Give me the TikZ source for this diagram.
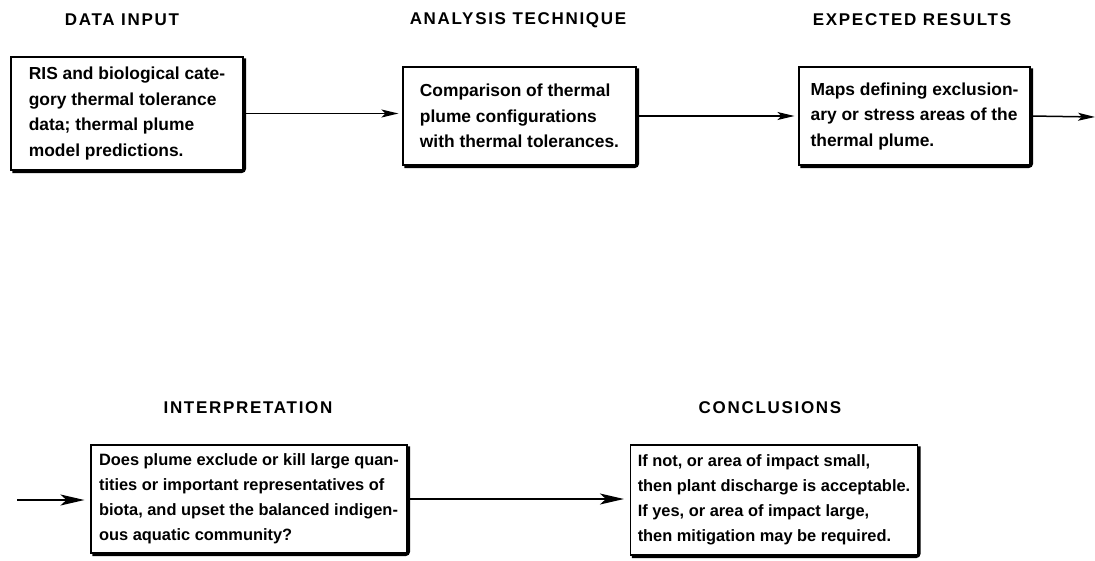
\documentclass[tikz,border=0pt]{standalone}
\usepackage{fontspec}
\setmainfont{Liberation Sans}
\newfontfamily\headfont[LetterSpace=10]{Liberation Sans}
\usetikzlibrary{arrows.meta}
\begin{document}
\begin{tikzpicture}[x=1pt,y=-1pt,
  stagebox/.style={draw, line width=1.1pt, inner sep=0pt, align=left,
    font=\fontsize{17.4}{25.5}\selectfont\bfseries},
  lowbox/.style={stagebox, font=\fontsize{16.4}{25}\selectfont\bfseries},
  heading/.style={font=\headfont\fontsize{17}{20}\selectfont\bfseries},
  arr/.style={line width=1.5pt, -{Stealth[length=17pt,width=8pt,inset=4pt]}, shorten >=4pt},
  bigarr/.style={arr, -{Stealth[length=24pt,width=11pt,inset=6pt]}, shorten >=6pt},
  shade/.style={line width=3pt, rounded corners=3pt}]
\useasboundingbox (0,0) rectangle (1095,560);

% column headings
\node[heading] (h1) at (122,20) {DATA INPUT};
\node[heading] (h2) at (518,20) {ANALYSIS TECHNIQUE};
\node[heading] (h3) at (912,20) {EXPECTED RESULTS};
\node[heading] (h4) at (248,408) {INTERPRETATION};
\node[heading] (h5) at (770,408) {CONCLUSIONS};

% stage boxes
\node[stagebox, minimum width=232pt, minimum height=113pt] (b1) at (127,113.5)
  {RIS and biological cate-\\gory thermal tolerance\\data; thermal plume\\model predictions.};
\node[stagebox, minimum width=233pt, minimum height=98pt] (b2) at (519.5,116)
  {Comparison of thermal\\plume configurations\\with thermal tolerances.};
\node[stagebox, minimum width=231pt, minimum height=98pt] (b3) at (914.5,116)
  {Maps defining exclusion-\\ary or stress areas of the\\thermal plume.};
\node[lowbox, minimum width=316pt, minimum height=108pt] (b4) at (249,499)
  {Does plume exclude or kill large quan-\\tities or important representatives of\\biota, and upset the balanced indigen-\\ous aquatic community?};
\node[lowbox, minimum width=287pt, minimum height=110pt] (b5) at (774,500)
  {If not, or area of impact small,\\then plant discharge is acceptable.\\If yes, or area of impact large,\\then mitigation may be required.};

% heavy lower and right edges
\foreach \b in {b1,b2,b3,b4,b5}
  \draw[shade] ([xshift=2pt,yshift=-1pt]\b.south west) -- ([xshift=1pt,yshift=-1pt]\b.south east)
    -- ([xshift=1pt,yshift=-2pt]\b.north east);

% flow connectors
\coordinate (out3) at (1095,117);
\coordinate (in4) at (17,500);
\draw[arr] (b1.east) -- (b1.east -| b2.west);
\draw[arr] (b2.east) -- (b2.east -| b3.west);
\draw[arr, shorten >=0pt] (b3.east) -- (out3);
\draw[bigarr] (in4) -- (in4 -| b4.west);
\draw[bigarr] (b4.east) -- (b4.east -| b5.west);
\end{tikzpicture}
\end{document}
